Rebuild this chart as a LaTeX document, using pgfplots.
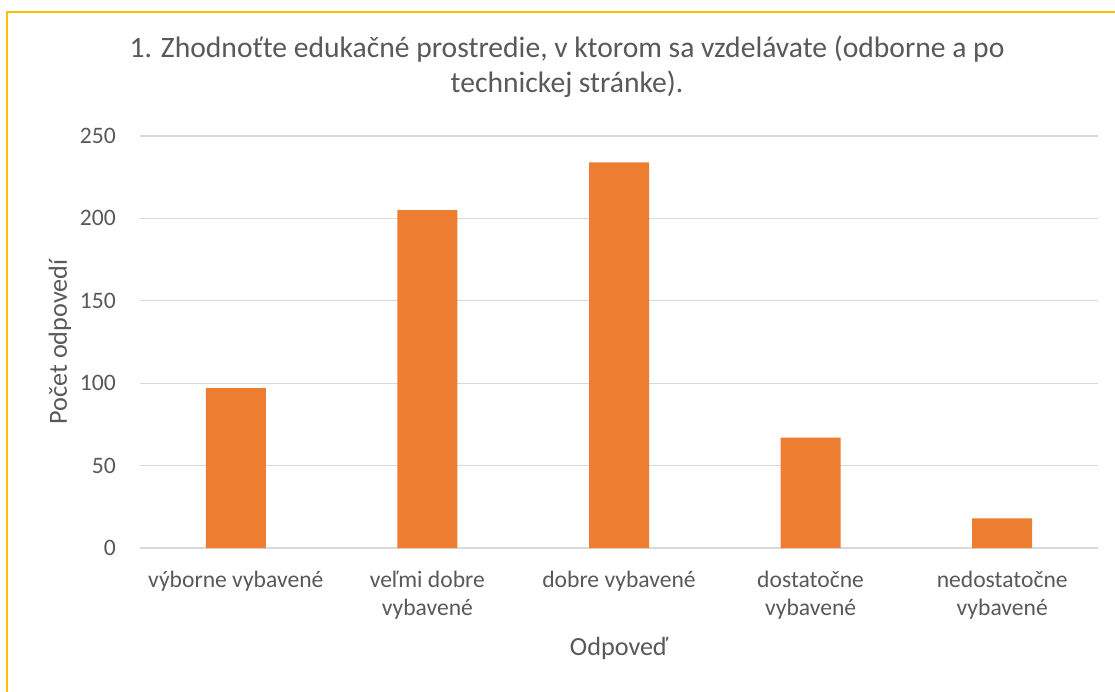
\documentclass[border=0pt]{standalone}
\usepackage{fontspec}
\setmainfont{Carlito}
\usepackage{pgfplots}
\pgfplotsset{compat=1.18}
\definecolor{txt}{HTML}{595959}
\definecolor{grd}{HTML}{D9D9D9}
\definecolor{barc}{HTML}{ED7D31}
\definecolor{frm}{HTML}{FFC000}
\newcommand{\tl}[1]{\begin{tabular}[t]{@{}c@{}}#1\end{tabular}}
\begin{document}
\begin{tikzpicture}[x=1pt,y=1pt]
\useasboundingbox (0,0) rectangle (1115,691);
\fill[white] (0,0) rectangle (1115,691);
\draw[frm, line width=2pt] (7,-5) -- (7,679) -- (1120,679);
\node[anchor=base, text=txt, font=\fontsize{29.6}{35}\selectfont, inner sep=0pt] at (567,633)
  {\tl{1. Zhodnoťte edukačné prostredie, v ktorom sa vzdelávate (odborne a po\\technickej stránke).}};
\begin{axis}[
  at={(140pt,143pt)}, anchor=south west,
  scale only axis, width=958pt, height=412pt,
  xmin=-0.5, xmax=4.5, ymin=0, ymax=250,
  enlargelimits=false,
  ytick={0,50,...,250},
  xtick={0,1,2,3,4},
  xticklabels={{\tl{výborne vybavené}},{\tl{veľmi dobre\\vybavené}},{\tl{dobre vybavené}},{\tl{dostatočne\\vybavené}},{\tl{nedostatočne\\vybavené}}},
  ymajorgrids,
  grid style={grd, line width=1.1pt},
  axis line style={draw=none},
  major tick length=0pt,
  tick style={draw=none},
  /pgf/number format/assume math mode=true,
  ticklabel style={text=txt, font=\fontsize{23.6}{28}\selectfont, inner sep=0pt},
  yticklabel style={anchor=east, xshift=-24pt},
  xticklabel style={anchor=base, yshift=-39pt},
  xlabel={Odpoveď},
  ylabel={Počet odpovedí},
  xlabel style={at={(axis description cs:0.5,-0.2597)}, anchor=base, text=txt, font=\fontsize{26.2}{31}\selectfont, inner sep=0pt},
  ylabel style={at={(axis description cs:-0.0762,0.5)}, anchor=base, text=txt, font=\fontsize{26.2}{31}\selectfont, inner sep=0pt},
  ybar, bar width=60pt,
]
\addplot[fill=barc, draw=none] coordinates {(0,97) (1,205) (2,234) (3,67) (4,18)};
\end{axis}
\end{tikzpicture}
\end{document}
